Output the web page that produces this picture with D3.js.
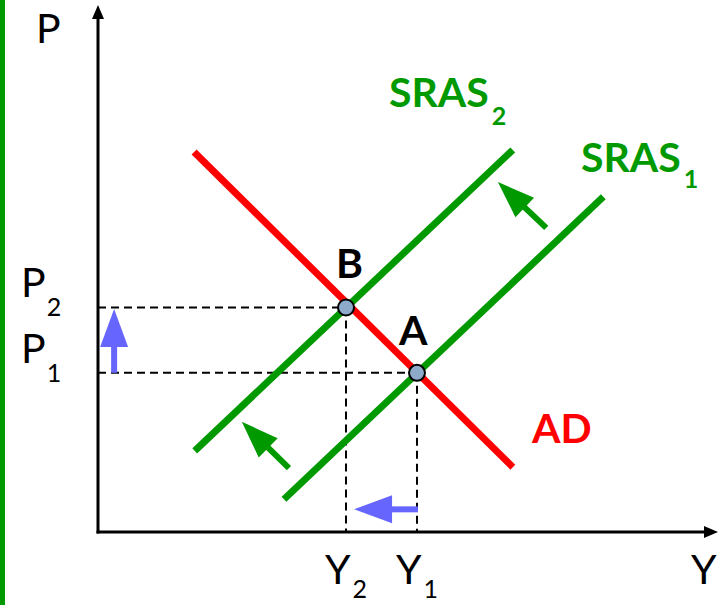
<!DOCTYPE html>
<html>
<head>
<meta charset="utf-8">
<script src="https://cdn.jsdelivr.net/npm/d3@7"></script>
<style>
  body { margin: 0; background: #fff; }
  svg { display: block; }
  text { font-family: Lato, "Open Sans", sans-serif; }
</style>
</head>
<body>
<svg id="chart" width="718" height="605"></svg>
<script>
// Curves (output Y, price level P)
var adCurve = [[15.5, 72.1], [66.9, 12.3]];
var sras1Curve = [[30.0, 6.2], [81.5, 63.6]];
var sras2Curve = [[15.6, 15.4], [66.9, 72.5]];

// Equilibrium points
var pointNames = ['B', 'A'];
var pointY = [40.0, 51.45];
var pointP = [42.6, 30.2];

// Axis tick labels
var priceTicks = ['2', '1'];
var outputTicks = ['2', '1'];

// Shift arrows [x1, y1, x2, y2]
var blueArrows = [[2.6, 30.2, 2.6, 42.3], [51.6, 4.3, 41.3, 4.3]];
var greenArrows = [[72.3, 57.7, 64.5, 66.4], [30.8, 12.1, 23.2, 20.9]];

var green = '#009900', red = '#ff0000', blue = '#6666ff';

var svg = d3.select('#chart');

var x = d3.scaleLinear().domain([0, 100]).range([98, 718]);
var y = d3.scaleLinear().domain([0, 100]).range([532, 5]);

// green bar on the left edge
svg.append('rect')
  .attr('x', 0).attr('y', 0)
  .attr('width', 5).attr('height', 605)
  .attr('fill', green);

// draw an arrow with a triangle head, in pixel space
function drawArrow(g, x1, y1, x2, y2, color, headLen, headW, shaftW) {
  var dx = x2 - x1, dy = y2 - y1;
  var len = Math.sqrt(dx * dx + dy * dy);
  var ux = dx / len, uy = dy / len;
  var bx = x2 - ux * headLen, by = y2 - uy * headLen;
  g.append('line')
    .attr('x1', x1).attr('y1', y1)
    .attr('x2', bx + ux * 2).attr('y2', by + uy * 2)
    .attr('stroke', color)
    .attr('stroke-width', shaftW);
  g.append('path')
    .attr('d', 'M' + x2 + ',' + y2 +
      'L' + (bx - uy * headW / 2) + ',' + (by + ux * headW / 2) +
      'L' + (bx + uy * headW / 2) + ',' + (by - ux * headW / 2) + 'Z')
    .attr('fill', color);
}

// axes
var axes = svg.append('g');
axes.append('line')
  .attr('x1', x(0)).attr('y1', y(0) + 1.5)
  .attr('x2', x(0)).attr('y2', y(100) + 10)
  .attr('stroke', 'black').attr('stroke-width', 3);
axes.append('line')
  .attr('x1', x(0) - 1.5).attr('y1', y(0))
  .attr('x2', x(100) - 10).attr('y2', y(0))
  .attr('stroke', 'black').attr('stroke-width', 3);
axes.append('path')
  .attr('d', 'M' + x(0) + ',' + y(100) + 'l-6,14l12,0Z')
  .attr('fill', 'black');
axes.append('path')
  .attr('d', 'M' + x(100) + ',' + y(0) + 'l-14,-6l0,12Z')
  .attr('fill', 'black');

// dashed guides from the equilibria to the axes
var guides = svg.append('g')
  .attr('stroke', 'black')
  .attr('stroke-width', 2)
  .attr('stroke-dasharray', '8,5');
pointNames.forEach(function(n, i) {
  guides.append('line')
    .attr('x1', x(0)).attr('y1', y(pointP[i]))
    .attr('x2', x(pointY[i])).attr('y2', y(pointP[i]));
  guides.append('line')
    .attr('x1', x(pointY[i])).attr('y1', y(pointP[i]))
    .attr('x2', x(pointY[i])).attr('y2', y(0));
});

// curves
var line = d3.line().x(function(d) { return x(d[0]); }).y(function(d) { return y(d[1]); });
[[adCurve, red], [sras1Curve, green], [sras2Curve, green]].forEach(function(c) {
  svg.append('path')
    .attr('d', line(c[0]))
    .attr('fill', 'none')
    .attr('stroke', c[1])
    .attr('stroke-width', 7);
});

// shift arrows
var arrows = svg.append('g');
blueArrows.forEach(function(a) {
  drawArrow(arrows, x(a[0]), y(a[1]), x(a[2]), y(a[3]), blue, 38, 28, 6);
});
greenArrows.forEach(function(a) {
  drawArrow(arrows, x(a[0]), y(a[1]), x(a[2]), y(a[3]), green, 37, 27, 6);
});

// equilibrium points
svg.selectAll('.eq')
  .data(pointNames)
  .enter().append('circle')
  .attr('class', 'eq')
  .attr('cx', function(d, i) { return x(pointY[i]); })
  .attr('cy', function(d, i) { return y(pointP[i]); })
  .attr('r', 8)
  .attr('fill', '#8eaacb')
  .attr('stroke', 'black')
  .attr('stroke-width', 2);

svg.selectAll('.eqLabel')
  .data(pointNames)
  .enter().append('text')
  .attr('class', 'eqLabel')
  .attr('x', function(d, i) { return x(pointY[i]) + (i == 0 ? -10 : -18); })
  .attr('y', function(d, i) { return y(pointP[i]) + (i == 0 ? -29 : -28); })
  .attr('font-size', 41)
  .attr('font-weight', 'bold')
  .attr('fill', 'black')
  .text(function(d) { return d; });

// label with subscript
function subLabel(px, py, main, sub, color, weight, subDx, subDy) {
  var t = svg.append('text')
    .attr('x', px).attr('y', py)
    .attr('fill', color)
    .attr('font-weight', weight)
    .attr('font-size', 41);
  t.append('tspan').text(main);
  if (sub) {
    t.append('tspan')
      .attr('dx', subDx).attr('dy', subDy)
      .attr('font-size', 25)
      .text(sub);
  }
}

// axis titles
subLabel(36, 43, 'P', null, 'black', 'normal');
subLabel(x(100) - 27, 584, 'Y', null, 'black', 'normal');

// price and output tick labels
priceTicks.forEach(function(s, i) {
  subLabel(21, y(pointP[i]) - 10, 'P', s, 'black', 'normal', 1, 19);
});
outputTicks.forEach(function(s, i) {
  subLabel(x(pointY[i]) - 21, 584, 'Y', s, 'black', 'normal', 2, 14);
});

// curve labels
subLabel(389, 107, 'SRAS', '2', green, 'bold', 3, 18);
subLabel(581, 172, 'SRAS', '1', green, 'bold', 3, 16);
subLabel(532, 443, 'AD', null, red, 'bold');
</script>
</body>
</html>
